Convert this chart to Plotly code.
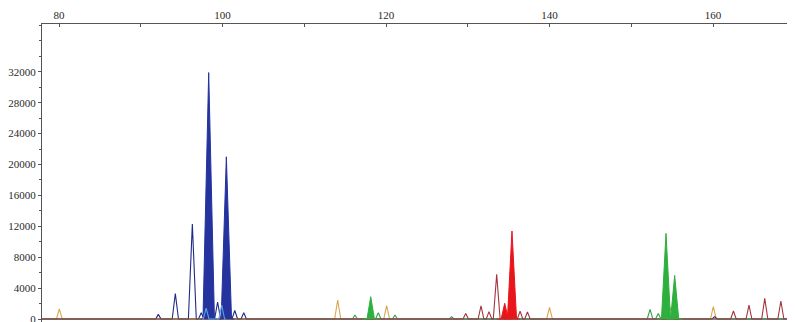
import plotly.graph_objects as go

# ---- data (size in bp, height in RFU) ----
blue_filled_pos = [98.31, 100.47]
blue_filled_height = [31900, 21000]
blue_pos = [92.15, 94.23, 96.31, 97.4, 99.4, 101.5, 102.6, 160.2]
blue_height = [600, 3300, 12300, 800, 2200, 1100, 800, 300]
cyan_pos = [98.0, 99.9]
cyan_height = [1400, 1800]

red_filled_pos = [134.52, 135.41]
red_filled_height = [2030, 11390]
maroon_pos = [129.75, 131.62, 132.6, 133.54, 136.4, 137.3, 162.5, 164.4, 166.33, 168.3]
maroon_height = [700, 1700, 950, 5790, 1000, 900, 1030, 1810, 2680, 2330]

green_filled_pos = [118.13, 154.25, 155.31]
green_filled_height = [2890, 11090, 5650]
green_pos = [116.2, 119.06, 121.1, 128.03, 152.3, 153.3]
green_height = [500, 800, 500, 300, 1250, 700]

orange_pos = [80.04, 100.3, 114.09, 120.08, 135.4, 140.0, 154.8, 160.04]
orange_height = [1300, 1500, 2460, 1720, 1500, 1510, 1500, 1600]

x_ticks = [80, 100, 120, 140, 160]
y_ticks = [0, 4000, 8000, 12000, 16000, 20000, 24000, 28000, 32000]

X0, X1 = 77.92, 170.03


def peaks_trace(pos, height, half_w, x_start=X0, x_end=X1):
    xs, ys = [x_start], [0]
    for c, h in sorted(zip(pos, height)):
        w = half_w(h)
        xs += [c - w, c, c + w]
        ys += [0, h, 0]
    xs.append(x_end)
    ys.append(0)
    return xs, ys


small_w = lambda h: 0.28 + 0.2 * (h / 12000) ** 0.5
big_w = lambda h: 0.35 + 0.35 * (h / 32000) ** 0.5

fig = go.Figure()


def add_outline(pos, height, color, w=small_w, width=1.1, span=None):
    if span is None:
        x, y = peaks_trace(pos, height, w)
    else:
        x, y = peaks_trace(pos, height, w, min(pos) - span, max(pos) + span)
    fig.add_trace(go.Scatter(x=x, y=y, mode="lines",
                             line=dict(color=color, width=width),
                             hoverinfo="skip", showlegend=False))


def add_filled(pos, height, color, w=big_w):
    for c, h in zip(pos, height):
        x, y = peaks_trace([c], [h], w, c - 1, c + 1)
        fig.add_trace(go.Scatter(x=x, y=y, mode="lines", fill="toself",
                                 fillcolor=color,
                                 line=dict(color=color, width=1),
                                 hoverinfo="skip", showlegend=False))


add_outline(orange_pos, orange_height, "#d9a650")
add_outline(blue_pos, blue_height, "#1e2a86")
add_outline(green_pos, green_height, "#3c9a4c")
add_outline(maroon_pos, maroon_height, "#a3343f")
add_filled(blue_filled_pos, blue_filled_height, "#24339e")
add_outline(cyan_pos, cyan_height, "#5aa2e6", span=0.5)
add_filled(red_filled_pos, red_filled_height, "#e8161c")
add_filled(green_filled_pos, green_filled_height, "#2eb03e")

font = dict(family="Liberation Serif", size=11, color="#2a2a2a")

fig.update_layout(
    width=787, height=322,
    margin=dict(l=34, r=0, t=16, b=8),
    paper_bgcolor="white", plot_bgcolor="white",
    font=font,
    xaxis=dict(range=[X0, X1], side="top", tickvals=x_ticks,
               showgrid=False, zeroline=False, showline=True,
               linecolor="#555555", linewidth=1,
               ticks="inside", ticklen=3, tickcolor="#555555",
               minor=dict(dtick=10, tick0=0, ticks="inside", ticklen=3, tickcolor="#555555"),
               tickfont=font, ticklabeloverflow="allow"),
    yaxis=dict(range=[-388, 38190], tickvals=y_ticks,
               showgrid=False, zeroline=False, showline=True,
               linecolor="#555555", linewidth=1,
               ticks="outside", ticklen=3, tickcolor="#555555",
               minor=dict(dtick=2000, tick0=0, ticks="outside", ticklen=2, tickcolor="#555555"),
               tickformat="d", tickfont=font, ticklabeloverflow="allow"),
)

fig.write_html("out.html")
